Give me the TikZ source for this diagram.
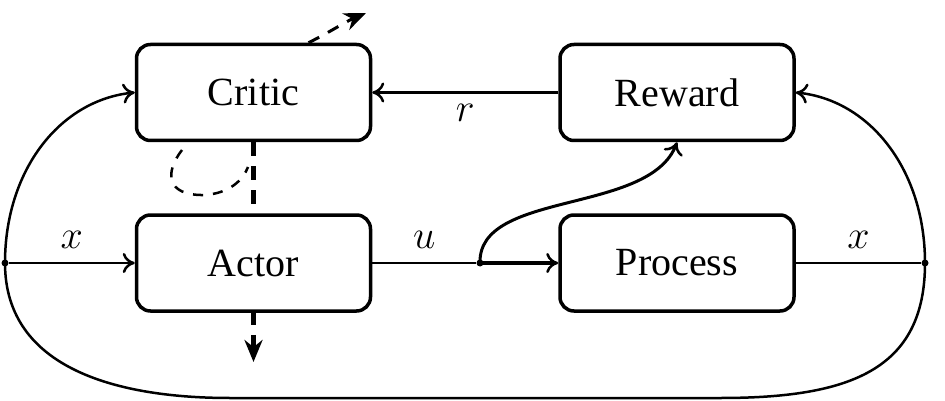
\RequirePackage{fix-cm}
\documentclass[tikz,border=0pt]{standalone}
\usepackage{fontspec}
\setmainfont{Liberation Serif}
\usetikzlibrary{arrows.meta}
\begin{document}
\begin{tikzpicture}[x=1pt,y=-1pt,
  blk/.style={draw,line width=3.5pt,rounded corners=14pt,minimum width=234pt,minimum height=96pt,inner sep=0pt,font=\fontsize{40}{48}\selectfont},
  lbl/.style={font=\fontsize{40}{48}\selectfont,inner sep=0pt},
  solidarr/.style={-{To[length=12pt,width=20pt,line width=2.5pt]}},
  dasharr/.style={dashed,dash pattern=on 12pt off 10pt,line width=4.5pt,-{Stealth[length=22pt,width=18pt]}},
  dotn/.style={circle,fill,inner sep=0pt,minimum size=7pt}]
\useasboundingbox (0,0) rectangle (945,401);
\node[blk] (critic) at (253.5,92.5) {Critic};
\node[blk] (reward) at (677,92.5) {Reward};
\node[blk] (actor) at (253.5,263) {Actor};
\node[blk] (process) at (677,263) {Process};
\node[dotn] (L) at (5,263) {};
\node[dotn] (J) at (480,263) {};
\node[dotn] (R) at (925,263) {};
\coordinate (BL) at (230,398);
\coordinate (BR) at (720,398);
\coordinate (up) at (366,13);
\coordinate (down) at (253.5,362);
% x to actor
\draw[line width=1.5pt,solidarr] (L) -- node[lbl,above=14pt]{$x$} (actor.west);
% actor to junction
\draw[line width=1.5pt] (actor.east) -- node[lbl,above=14pt]{$u$} (J);
% junction to process
\draw[line width=3.5pt,solidarr] (J.center) -- (process.west);
% process to R
\draw[line width=1.5pt] (process.east) -- node[lbl,above=14pt]{$x$} (R);
% junction to reward
\draw[line width=3pt,solidarr] (J.center) .. controls (478,190) and (650,215) .. (reward.south);
% reward to critic
\draw[line width=3.5pt,solidarr] (reward.west) -- node[lbl,below=10pt]{$r$} (critic.east);
% L up to critic
\draw[line width=2.5pt,solidarr] (L.center) .. controls (5,170) and (60,100) .. (critic.west);
% R up to reward
\draw[line width=2.5pt,solidarr] (R.center) .. controls (925,170) and (870,100) .. (reward.east);
% bottom loop
\draw[line width=2.5pt] (L.center) .. controls (5,370) and (120,398) .. (BL) -- (BR) .. controls (850,398) and (925,370) .. (R.center);
% dashed critic-actor
\draw[dashed,dash pattern=on 14pt off 10pt,line width=5pt] (critic.south) -- (actor.north);
\draw[dasharr] (actor.south) -- (down);
\draw[dasharr,line width=3pt] ([xshift=55pt]critic.north) .. controls (330,32) and (345,22) .. (up);
% dashed loop
\draw[dashed,dash pattern=on 10pt off 10pt,line width=2.5pt] (182,150) .. controls (165,172) and (165,196) .. (205,195) .. controls (230,193) and (243,180) .. (248,167);
\end{tikzpicture}
\end{document}
